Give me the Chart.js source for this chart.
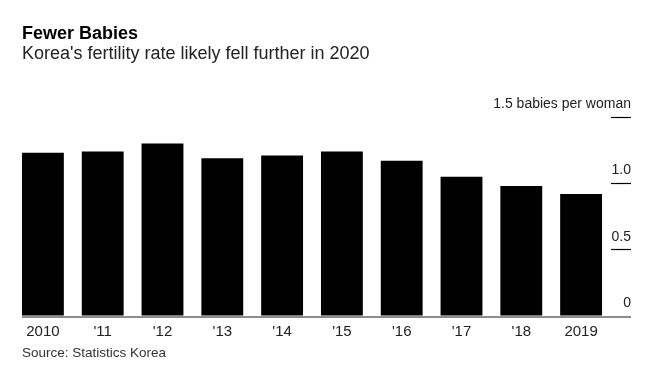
<!DOCTYPE html>
<html>
<head>
<meta charset="utf-8">
<script src="https://cdn.jsdelivr.net/npm/chart.js@4/dist/chart.umd.min.js"></script>
<style>
  html, body { margin: 0; padding: 0; background: #fff; }
  #wrap { position: relative; width: 650px; height: 376px; font-family: "Liberation Sans", Arial, sans-serif; }
  #chart { position: absolute; left: 0; top: 0; }
  .title { position: absolute; left: 22px; top: 24px; font-size: 18px; line-height: 18px; font-weight: bold; color: #000; white-space: nowrap; }
  .subtitle { position: absolute; left: 22px; top: 44px; font-size: 18px; line-height: 18px; color: #222; white-space: nowrap; }
  .source { position: absolute; left: 22px; top: 346px; font-size: 13.5px; line-height: 13.5px; color: #333; white-space: nowrap; }
</style>
</head>
<body>
<div id="wrap">
  <canvas id="chart" width="650" height="376"></canvas>
  <div class="title">Fewer Babies</div>
  <div class="subtitle">Korea's fertility rate likely fell further in 2020</div>
  <div class="source">Source: Statistics Korea</div>
</div>
<script>
// data
const years = ['2010', "'11", "'12", "'13", "'14", "'15", "'16", "'17", "'18", '2019'];
const fertilityRate = [1.23, 1.24, 1.30, 1.19, 1.21, 1.24, 1.17, 1.05, 0.98, 0.92];
const yTickValues = [0, 0.5, 1.0, 1.5];
const yTickLabels = ['0', '0.5', '1.0', '1.5 babies per woman'];

// grey baseline from the first bar to the end of the tick marks
const baseline = {
  id: 'baseline',
  afterDatasetsDraw(chart) {
    const ctx = chart.ctx;
    const y0 = chart.scales.y.getPixelForValue(0);
    const first = chart.getDatasetMeta(0).data[0];
    const left = first.x - first.width / 2;
    const right = chart.scales.y.right;
    ctx.save();
    ctx.fillStyle = '#8c8c8c';
    ctx.fillRect(left, y0, right - left, 2);
    ctx.restore();
  }
};

const chart = new Chart(document.getElementById('chart').getContext('2d'), {
  type: 'bar',
  data: {
    labels: years,
    datasets: [{
      data: fertilityRate,
      backgroundColor: '#000',
      borderWidth: 0,
      categoryPercentage: 1,
      barPercentage: 0.7,
    }],
  },
  options: {
    responsive: false,
    animation: false,
    layout: { padding: { left: 13, right: 19, top: 117, bottom: 28 } },
    plugins: {
      legend: { display: false },
      tooltip: { enabled: false },
    },
    scales: {
      x: {
        grid: { display: false, drawTicks: false },
        border: { display: false },
        ticks: {
          padding: 7,
          color: '#222',
          font: { family: '"Liberation Sans", Arial, sans-serif', size: 15 },
          maxRotation: 0,
        },
      },
      y: {
        position: 'right',
        min: 0,
        max: 1.5,
        afterBuildTicks: (scale) => { scale.ticks = yTickValues.map(v => ({ value: v })); },
        afterFit: (scale) => { scale.width = 20; },
        grid: {
          drawOnChartArea: false,
          drawTicks: true,
          tickLength: 20,
          tickWidth: 1.2,
          tickColor: (c) => (c.tick && c.tick.value === 0 ? 'rgba(0,0,0,0)' : '#000'),
        },
        border: { display: false },
        ticks: {
          mirror: true,
          padding: 20,
          labelOffset: -13,
          color: '#222',
          font: { family: '"Liberation Sans", Arial, sans-serif', size: 14 },
          callback: (value) => yTickLabels[yTickValues.indexOf(value)],
        },
      },
    },
  },
  plugins: [baseline],
});
</script>
</body>
</html>
